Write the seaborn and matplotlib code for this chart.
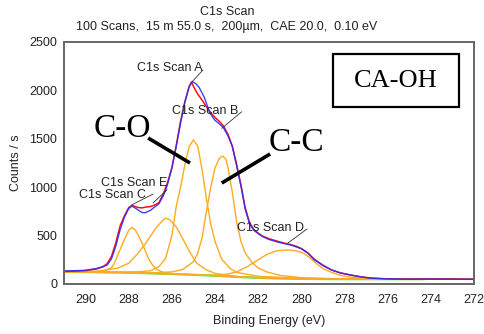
import numpy as np
import pandas as pd
import matplotlib
matplotlib.use("Agg")
import matplotlib.pyplot as plt
from matplotlib.patches import Rectangle
import seaborn as sns

# Measured C1s spectrum (binding energy in eV, counts/s)
data_be = [291.0, 290.5, 290.0, 289.5, 289.2, 289.0, 288.8, 288.6, 288.4, 288.2, 288.0, 287.85,
           287.6, 287.4, 287.2, 287.0, 286.8, 286.6, 286.4, 286.2, 286.0, 285.8, 285.6, 285.4,
           285.2, 285.1, 284.95, 284.8, 284.6, 284.4, 284.2, 284.0, 283.8, 283.6, 283.4, 283.2,
           283.0, 282.8, 282.6, 282.4, 282.2, 282.0, 281.8, 281.5, 281.2, 281.0, 280.8, 280.5,
           280.2, 280.0, 279.7, 279.4, 279.0, 278.6, 278.2, 277.7, 277.2, 276.7, 276.0, 275.0,
           274.1, 273.3, 272.0]
data_cps = [130, 133, 138, 155, 178, 210, 285, 425, 600, 705, 790, 812,
            792, 786, 795, 800, 815, 840, 930, 1050, 1200, 1430, 1680, 1880,
            2040, 2085, 2020, 1960, 1900, 1830, 1770, 1720, 1680, 1630, 1545, 1425,
            1235, 1025, 785, 635, 560, 525, 495, 468, 448, 435, 423, 407,
            387, 366, 320, 255, 195, 145, 115, 92, 72, 60, 53, 50,
            52, 52, 48]

# Fitted envelope
env_be = [291.0, 290.5, 290.0, 289.5, 289.2, 289.0, 288.8, 288.6, 288.4, 288.2, 288.0, 287.85,
          287.6, 287.4, 287.25, 287.0, 286.8, 286.6, 286.4, 286.2, 286.0, 285.8, 285.6, 285.4,
          285.2, 285.05, 284.9, 284.75, 284.5, 284.25, 284.0, 283.8, 283.6, 283.4, 283.2, 283.0,
          282.8, 282.6, 282.4, 282.2, 282.0, 281.8, 281.5, 281.2, 281.0, 280.5, 280.0, 279.7,
          279.4, 279.0, 278.6, 278.2, 277.7, 277.2, 276.7, 276.0, 275.0, 272.0]
env_cps = [135, 137, 142, 160, 178, 196, 260, 390, 560, 690, 780, 805,
           770, 740, 735, 760, 795, 830, 910, 1030, 1200, 1420, 1660, 1880,
           2040, 2090, 2070, 2035, 1930, 1770, 1690, 1655, 1610, 1530, 1420, 1220,
           1010, 770, 620, 555, 520, 490, 460, 440, 428, 403, 365, 320,
           250, 190, 145, 115, 92, 72, 60, 53, 50, 50]

# Background
bg_be = [291.0, 290.0, 289.0, 288.0, 287.0, 286.0, 285.0, 284.0, 283.0, 282.0, 281.0, 280.0,
         279.0, 278.0, 276.0, 274.3]
bg_cps = [127, 124, 120, 117, 110, 103, 95, 85, 73, 63, 57, 53, 51, 50, 50, 50]

# Peak components (background included)
scan_a_be = [291.0, 289.0, 288.0, 287.0, 286.6, 286.3, 286.0, 285.8, 285.6, 285.4, 285.2, 285.0,
             284.8, 284.6, 284.4, 284.2, 284.0, 283.7, 283.3, 283.0, 282.0, 280.0, 277.0, 272.0]
scan_a_cps = [128, 124, 122, 135, 180, 260, 500, 800, 1000, 1230, 1420, 1490,
              1420, 1180, 880, 620, 440, 260, 160, 120, 80, 58, 50, 50]

scan_b_be = [291.0, 288.0, 287.0, 286.0, 285.5, 285.0, 284.8, 284.6, 284.4, 284.2, 284.0, 283.8,
             283.65, 283.5, 283.4, 283.2, 283.0, 282.8, 282.6, 282.3, 282.0, 281.6, 281.0, 280.0,
             278.0, 276.0, 272.0]
scan_b_cps = [127, 120, 115, 125, 150, 230, 320, 480, 750, 1000, 1200, 1300,
              1322, 1290, 1200, 950, 640, 440, 320, 225, 165, 125, 90, 65,
              52, 50, 50]

scan_c_be = [291.0, 289.5, 289.2, 289.0, 288.8, 288.7, 288.6, 288.4, 288.2, 288.0, 287.85, 287.7,
             287.5, 287.3, 287.1, 286.9, 286.7, 286.4, 286.0, 285.0, 283.0, 280.0, 276.0, 272.0]
scan_c_cps = [127, 128, 135, 150, 168, 200, 250, 355, 460, 555, 585, 560,
              480, 380, 270, 195, 150, 120, 108, 96, 74, 53, 50, 50]

scan_d_be = [291.0, 289.0, 287.0, 285.5, 284.5, 284.0, 283.5, 283.0, 282.5, 282.0, 281.6, 281.2,
             280.8, 280.5, 280.2, 279.9, 279.6, 279.3, 279.0, 278.6, 278.2, 277.7, 277.0, 276.0,
             274.0, 272.0]
scan_d_cps = [127, 120, 110, 100, 92, 92, 100, 125, 180, 250, 305, 340,
              351, 350, 340, 318, 270, 210, 160, 120, 90, 70, 57, 52,
              50, 50]

scan_e_be = [291.0, 290.0, 289.5, 289.0, 288.5, 288.0, 287.6, 287.2, 286.8, 286.5, 286.3, 286.1,
             285.8, 285.5, 285.2, 284.85, 284.4, 284.0, 283.0, 282.0, 280.0, 276.0, 272.0]
scan_e_cps = [128, 128, 132, 145, 165, 215, 310, 425, 560, 640, 680, 665,
              590, 470, 340, 215, 145, 110, 78, 65, 53, 50, 50]

components = {"C1s Scan A": (scan_a_be, scan_a_cps),
              "C1s Scan B": (scan_b_be, scan_b_cps),
              "C1s Scan C": (scan_c_be, scan_c_cps),
              "C1s Scan D": (scan_d_be, scan_d_cps),
              "C1s Scan E": (scan_e_be, scan_e_cps)}

x_ticks = [290, 288, 286, 284, 282, 280, 278, 276, 274, 272]
y_ticks = [0, 500, 1000, 1500, 2000, 2500]

sns.set_style("white")
plt.rcParams["font.family"] = ["Liberation Sans", "DejaVu Sans"]

fig = plt.figure(figsize=(4.85, 3.34), dpi=100)
ax = fig.add_axes([64 / 485, 1 - 284 / 334, 410 / 485, 242 / 334])

sns.lineplot(x=bg_be, y=bg_cps, ax=ax, color="#55ee33", lw=1.6, estimator=None)
for name, (be, cps) in components.items():
    sns.lineplot(x=be, y=cps, ax=ax, color="#ffaa22", lw=1.0, estimator=None)
sns.lineplot(x=data_be, y=data_cps, ax=ax, color="#ff1010", lw=1.1, estimator=None)
sns.lineplot(x=env_be, y=env_cps, ax=ax, color="#2a2aff", lw=1.0, alpha=0.9, estimator=None)

ax.set_xlim(291, 272)
ax.set_ylim(0, 2500)
ax.set_xticks(x_ticks)
ax.set_xticks(np.arange(272, 292, 1), minor=True)
ax.set_yticks(y_ticks)
ax.set_yticks(np.arange(0, 2750, 250), minor=True)
ax.tick_params(axis="x", which="both", direction="out", length=4, width=1, colors="#333333",
               labelsize=9, pad=3)
ax.tick_params(axis="y", which="both", direction="inout", length=6, width=1, colors="#333333",
               labelsize=9, pad=2)
for lab in ax.get_xticklabels() + ax.get_yticklabels():
    lab.set_color("#222222")
for sp in ax.spines.values():
    sp.set_color("#666666")
    sp.set_linewidth(1.4)

ax.set_xlabel("Binding Energy (eV)", fontsize=9, color="#222222", labelpad=7)
ax.set_ylabel("Counts / s", fontsize=9, color="#222222", labelpad=5)

fig.text(227 / 485, 1 - 12 / 334, "C1s Scan", ha="center", va="center", fontsize=9, color="#222222")
fig.text(227 / 485, 1 - 27 / 334, "100 Scans,  15 m 55.0 s,  200\u00b5m,  CAE 20.0,  0.10 eV",
         ha="center", va="center", fontsize=9, color="#222222")

# Component labels with leader lines
lbl_kw = dict(fontsize=9, color="#222222", va="center", ha="center")
ax.text(286.1, 2230, "C1s Scan A", **lbl_kw)
ax.plot([284.56, 285.07], [2211, 2087], color="#333333", lw=0.6)
ax.text(284.45, 1787, "C1s Scan B", **lbl_kw)
ax.plot([282.76, 283.69], [1780, 1608], color="#333333", lw=0.6)
ax.text(281.45, 578, "C1s Scan D", **lbl_kw)
ax.plot([279.74, 280.62], [568, 424], color="#333333", lw=0.6)
ax.text(288.75, 915, "C1s Scan C", **lbl_kw)
ax.plot([287.87, 286.87], [816, 930], color="#333333", lw=0.6)
ax.text(287.75, 1040, "C1s Scan E", **lbl_kw)
ax.plot([286.87, 286.22], [837, 975], color="#333333", lw=0.6)

# Chemical state annotations
serif = ["Liberation Serif", "DejaVu Serif"]
ax.text(288.3, 1600, "C-O", family=serif, fontsize=24, ha="center", va="center", color="black")
ax.plot([287.1, 285.16], [1508, 1250], color="black", lw=2.6, solid_capstyle="butt")
ax.text(280.25, 1460, "C-C", family=serif, fontsize=24, ha="center", va="center", color="black")
ax.plot([281.45, 283.69], [1343, 1043], color="black", lw=2.6, solid_capstyle="butt")
ax.add_patch(Rectangle((272.70, 1829), 278.53 - 272.70, 2376 - 1829, fill=False,
                       ec="black", lw=1.6, zorder=5))
ax.text(275.61, 2100, "CA-OH", family=serif, fontsize=19, ha="center", va="center", color="black")

fig.savefig("out.png", dpi=100)
